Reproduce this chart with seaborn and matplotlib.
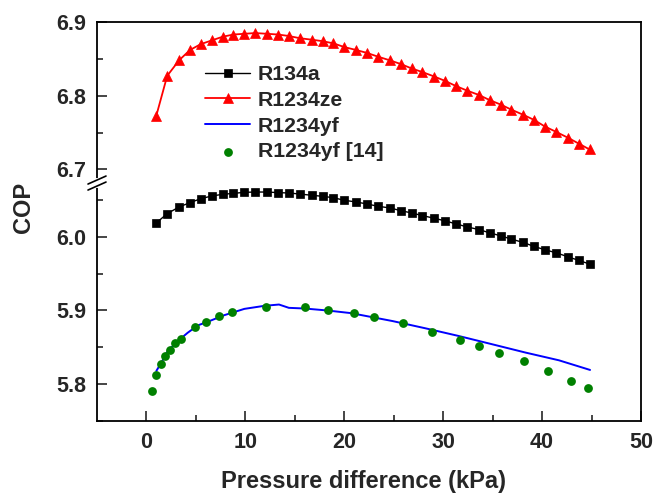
import numpy as np
import matplotlib
matplotlib.use("Agg")
import matplotlib.pyplot as plt
import seaborn as sns
from matplotlib.ticker import FixedLocator, FixedFormatter

# ---------------- data ----------------
x_grid = [1.0, 2.1, 3.3, 4.4, 5.5, 6.6, 7.7, 8.8, 9.9, 11.0,
          12.2, 13.3, 14.4, 15.5, 16.7, 17.8, 18.9, 20.0, 21.2, 22.3,
          23.4, 24.6, 25.7, 26.8, 27.9, 29.1, 30.2, 31.3, 32.4, 33.6,
          34.7, 35.8, 36.9, 38.1, 39.2, 40.3, 41.4, 42.6, 43.7, 44.8]

r1234ze = [6.773, 6.827, 6.848, 6.862, 6.870, 6.875, 6.880, 6.883, 6.884, 6.885,
           6.884, 6.883, 6.881, 6.878, 6.876, 6.874, 6.871, 6.866, 6.862, 6.858,
           6.853, 6.848, 6.843, 6.837, 6.832, 6.826, 6.820, 6.813, 6.807, 6.801,
           6.794, 6.788, 6.781, 6.774, 6.767, 6.758, 6.751, 6.743, 6.735, 6.727]

r134a = [6.0189, 6.0315, 6.0405, 6.0464, 6.0518, 6.0554, 6.0577, 6.0590, 6.0604, 6.0608,
         6.0608, 6.0600, 6.0595, 6.0581, 6.0564, 6.0550, 6.0531, 6.0496, 6.0473, 6.0446,
         6.0415, 6.0392, 6.0356, 6.0324, 6.0288, 6.0252, 6.0216, 6.0176, 6.0135, 6.0099,
         6.0054, 6.0014, 5.9969, 5.9923, 5.9869, 5.9824, 5.9784, 5.9730, 5.9680, 5.9631]

yf_x = [1.0, 1.5, 2.15, 3.17, 4.17, 5.18, 6.53, 7.88, 9.9, 11.9, 13.4, 14.4, 16.0,
        18.3, 20.7, 24.9, 28.25, 31.6, 35.0, 38.35, 41.7, 44.85]
yf_y = [5.818, 5.829, 5.845, 5.8585, 5.8698, 5.8797, 5.8865, 5.8937, 5.9022, 5.9063,
        5.9081, 5.9036, 5.9027, 5.9000, 5.8964, 5.8856, 5.8757, 5.8653, 5.8540, 5.8428,
        5.8324, 5.8193]

ref_x = [0.54, 0.94, 1.45, 1.89, 2.36, 2.86, 3.47, 4.95, 6.06, 7.37, 8.69, 12.09, 16.03,
         18.38, 20.94, 23.03, 25.96, 28.86, 31.65, 33.64, 35.69, 38.15, 40.61, 42.93, 44.62]
ref_y = [5.791, 5.8126, 5.827, 5.838, 5.847, 5.8555, 5.8616, 5.877, 5.885, 5.8927, 5.8977,
         5.9045, 5.9045, 5.9008, 5.8964, 5.8914, 5.8829, 5.8711, 5.8603, 5.8518, 5.8419,
         5.8311, 5.8184, 5.8049, 5.795]

labels = ["R134a", "R1234ze", "R1234yf", "R1234yf [14]"]
x_ticks = [0, 10, 20, 30, 40, 50]
y_ticks = [5.8, 5.9, 6.0, 6.7, 6.8, 6.9]
y_tick_labels = ["5.8", "5.9", "6.0", "6.7", "6.8", "6.9"]
y_minor = [5.75, 5.85, 5.95, 6.05, 6.75, 6.85]

# ---------------- style ----------------
sns.set_style("ticks")
plt.rcParams["font.family"] = ["Liberation Sans", "DejaVu Sans"]
plt.rcParams["font.weight"] = "bold"
plt.rcParams["axes.labelweight"] = "bold"

fig = plt.figure(figsize=(6.57, 4.94), dpi=100)
ax = fig.add_axes([97 / 657, 1 - 421 / 494, 544 / 657, 399 / 494])

sns.lineplot(x=x_grid, y=r134a, ax=ax, color="black", marker="s", markersize=5.8,
             markeredgecolor="black", markeredgewidth=0.5, linewidth=1.0,
             label=labels[0], sort=False)
sns.lineplot(x=x_grid, y=r1234ze, ax=ax, color="#ff0000", marker="^", markersize=7.5,
             markeredgecolor="#ff0000", markeredgewidth=0.5, linewidth=1.3,
             label=labels[1], sort=False)
sns.lineplot(x=yf_x, y=yf_y, ax=ax, color="#0000ff", linewidth=1.4,
             label=labels[2], sort=False)
sns.scatterplot(x=ref_x, y=ref_y, ax=ax, color="#008000", s=40, linewidth=0,
                label=labels[3], zorder=3)

# ---------------- broken y axis via piecewise scale ----------------
lo_top = 6.073
up_bot = 6.6814
gap = up_bot - lo_top


def fwd(y):
    y = np.asarray(y, dtype=float)
    return np.where(y <= lo_top, y, np.where(y >= up_bot, y - gap, lo_top))


def inv(u):
    u = np.asarray(u, dtype=float)
    return np.where(u <= lo_top, u, u + gap)


ax.set_yscale("function", functions=(fwd, inv))
ax.set_ylim(5.75, 6.9)
ax.set_xlim(-5, 50)

ax.yaxis.set_major_locator(FixedLocator(y_ticks))
ax.yaxis.set_major_formatter(FixedFormatter(y_tick_labels))
ax.yaxis.set_minor_locator(FixedLocator(y_minor))
ax.xaxis.set_major_locator(FixedLocator(x_ticks))
ax.xaxis.set_minor_locator(FixedLocator([5, 15, 25, 35, 45]))

ax.tick_params(axis="both", which="major", direction="in", length=7, width=1.2,
               labelsize=15.5, pad=8)
ax.tick_params(axis="both", which="minor", direction="in", length=4, width=1.2)
ax.tick_params(top=False, right=False, which="both")
for lab in ax.get_xticklabels() + ax.get_yticklabels():
    lab.set_fontweight("bold")
for sp in ax.spines.values():
    sp.set_linewidth(1.3)
    sp.set_color("black")

ax.set_xlabel("Pressure difference (kPa)", fontsize=17, fontweight="bold")
ax.set_ylabel("COP", fontsize=17, fontweight="bold")
ax.xaxis.set_label_coords(0.489, -0.124)
ax.yaxis.set_label_coords(-0.114, 0.536)

# break marks on left spine
frac = (lo_top - 5.75) / ((lo_top - 5.75) + (6.9 - up_bot))
px_x = 1 / 544
px_y = 1 / 399
ax.plot([0, 0], [frac - 3 * px_y, frac + 3 * px_y], transform=ax.transAxes,
        color="white", linewidth=3, clip_on=False, zorder=10)
for off in (-3, 3):
    ax.plot([-9 * px_x, 9 * px_x],
            [frac + (off - 4) * px_y, frac + (off + 4) * px_y],
            transform=ax.transAxes, color="black", linewidth=1.2,
            clip_on=False, zorder=11)

leg = ax.legend(loc="upper left", bbox_to_anchor=(0.164, 0.94), frameon=False,
                fontsize=15.3, handlelength=2.1, labelspacing=0.32, handletextpad=0.38,
                numpoints=1, scatterpoints=1)
for t in leg.get_texts():
    t.set_fontweight("bold")

fig.savefig("out.png", dpi=100)
